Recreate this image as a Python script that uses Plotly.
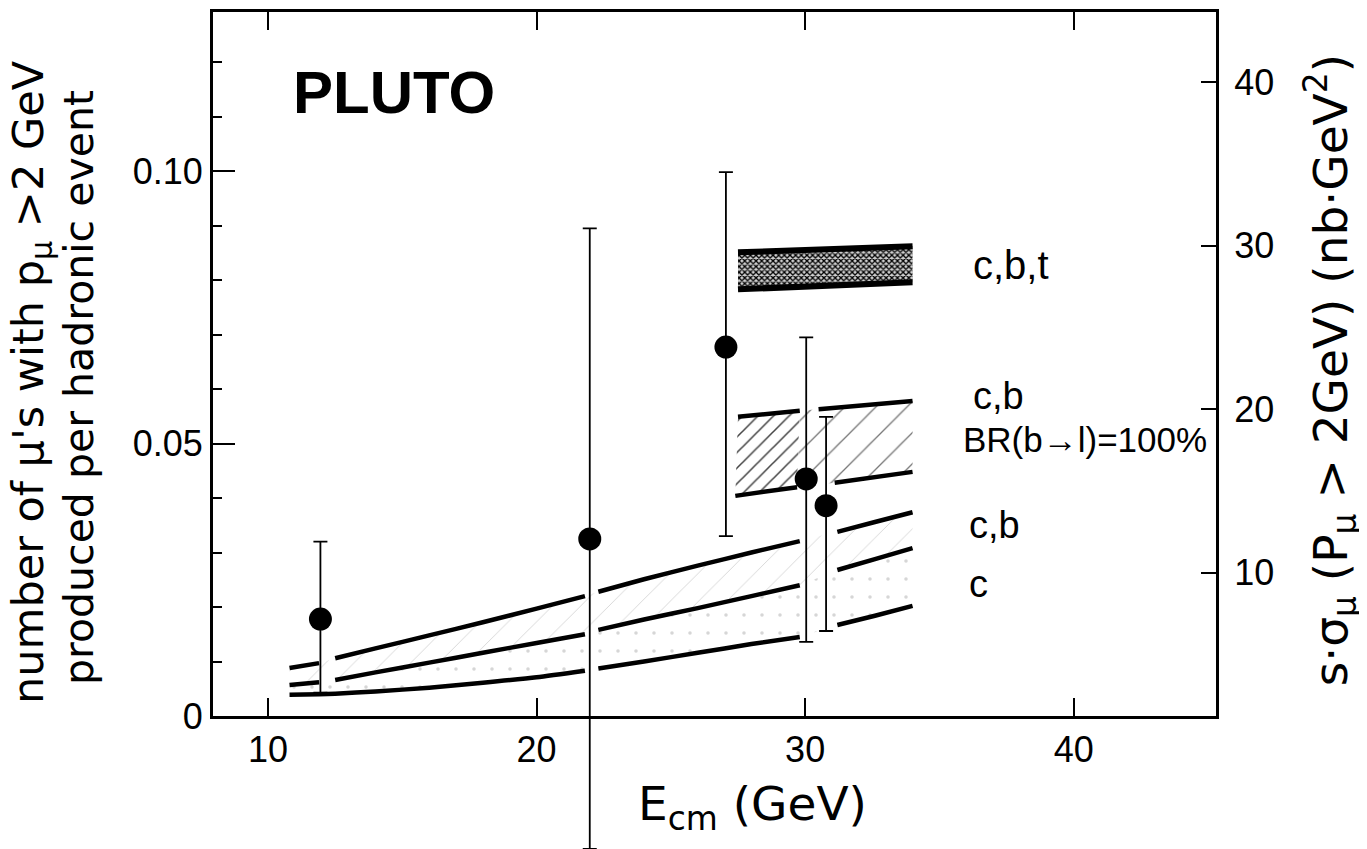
import plotly.graph_objects as go

# ---------------- data ----------------
# measured points: E_cm (GeV), muons per hadronic event, error-bar ends
E_data = [11.95, 21.98, 27.05, 30.04, 30.78]
N_data = [0.0178, 0.0325, 0.0677, 0.0435, 0.0386]
N_hi = [0.0320, 0.0895, 0.0998, 0.0695, 0.0549]
N_lo = [0.0043, -0.0244, 0.0330, 0.0136, 0.0156]

# lower theory band curves (c and c,b)
E_curve = [10.8, 11.9, 12.5, 14, 16, 18, 20, 21.8, 22.3, 24, 26, 28, 29.8, 31.2, 32.6, 34.0]
N_cb_upper = [0.0088, 0.0097, 0.0106, 0.0124, 0.0148, 0.0172, 0.0197, 0.0220, 0.0228,
              0.0251, 0.0276, 0.0300, 0.0321, 0.0338, 0.0356, 0.0374]
N_c_upper = [0.0057, 0.0062, 0.0066, 0.0080, 0.0098, 0.0116, 0.0134, 0.0150, 0.0158,
             0.0177, 0.0198, 0.0220, 0.0240, 0.0268, 0.0288, 0.0308]
N_c_lower = [0.0039, 0.0040, 0.0041, 0.0045, 0.0052, 0.0061, 0.0071, 0.0083, 0.0087,
             0.0100, 0.0116, 0.0132, 0.0145, 0.0167, 0.0184, 0.0202]
breaks_upper = [12.2, 22.05, 30.5]
breaks_lower = [22.05, 30.5]

# c,b band with BR(b->l)=100%
E_br_upper = [27.5, 29.8, 30.5, 34.0]
N_br_upper = [0.0549, 0.0560, 0.0563, 0.0578]
E_br_lower = [27.4, 29.7, 31.1, 34.0]
N_br_lower = [0.0404, 0.0420, 0.0428, 0.0448]
breaks_br_upper = [30.1]
breaks_br_lower = [30.4]

# c,b,t band
E_top = [27.5, 34.0]
N_top_upper = [0.0851, 0.0862]
N_top_lower = [0.0783, 0.0796]

x_ticks = [10, 20, 30, 40]
y_ticks = [0, 0.05, 0.10]
y_ticktext = ["0", "0.05", "0.10"]
y2_ticks = [10, 20, 30, 40]

FONT = "Liberation Sans"
TFONT = "DejaVu Sans"

# axis geometry
X_RANGE = [7.95, 45.3]
Y_RANGE = [0, 0.1292]
Y2_RANGE = [1.22, 44.3]
Y_DOMAIN_BOTTOM = 133 / 837          # space below the frame is part of the paper
Y3_RANGE = [Y_RANGE[0] - (Y_RANGE[1] - Y_RANGE[0]) * Y_DOMAIN_BOTTOM / (1 - Y_DOMAIN_BOTTOM),
            Y_RANGE[1]]


def with_breaks(xs, ys, breaks):
    ox, oy = [], []
    for i, (x, y) in enumerate(zip(xs, ys)):
        if i > 0 and any(xs[i - 1] < b < x for b in breaks):
            ox.append(None)
            oy.append(None)
        ox.append(x)
        oy.append(y)
    return ox, oy


def band(x_up, y_up, x_lo, y_lo, pattern, fillcolor="rgba(0,0,0,0)"):
    return go.Scatter(
        x=list(x_up) + list(x_lo)[::-1],
        y=list(y_up) + list(y_lo)[::-1],
        mode="lines", line=dict(width=0), fill="toself",
        fillcolor=fillcolor, fillpattern=pattern,
        hoverinfo="skip", showlegend=False)


def line(xs, ys, breaks, width=4.5):
    bx, by = with_breaks(xs, ys, breaks)
    return go.Scatter(x=bx, y=by, mode="lines", connectgaps=False,
                      line=dict(color="black", width=width, shape="spline", smoothing=0.6),
                      hoverinfo="skip", showlegend=False)


fig = go.Figure()

# fills
fig.add_trace(band(E_curve, N_cb_upper, E_curve, N_c_upper,
                   dict(shape="/", fgcolor="#cfcfcf", bgcolor="white", size=20, solidity=0.04)))
fig.add_trace(band(E_curve, N_c_upper, E_curve, N_c_lower,
                   dict(shape=".", fgcolor="#d6d6d6", bgcolor="white", size=18, solidity=0.03)))
# BR band: denser hatching on the left piece, sparse on the right piece
fig.add_trace(band(E_br_upper[:2], N_br_upper[:2], E_br_lower[:2], N_br_lower[:2],
                   dict(shape="/", fgcolor="#444444", bgcolor="white", size=11, solidity=0.14)))
fig.add_trace(band(E_br_upper[1:], N_br_upper[1:], E_br_lower[1:], N_br_lower[1:],
                   dict(shape="/", fgcolor="#777777", bgcolor="white", size=22, solidity=0.06)))
fig.add_trace(band(E_top, N_top_upper, E_top, N_top_lower,
                   dict(shape="x", fgcolor="black", bgcolor="#d0d0d0", size=4, solidity=0.55)))

# curves
fig.add_trace(line(E_curve, N_cb_upper, breaks_upper))
fig.add_trace(line(E_curve, N_c_upper, breaks_upper))
fig.add_trace(line(E_curve, N_c_lower, breaks_lower))
fig.add_trace(line(E_br_upper, N_br_upper, breaks_br_upper))
fig.add_trace(line(E_br_lower, N_br_lower, breaks_br_lower))
fig.add_trace(line(E_top, N_top_upper, [], width=6))
fig.add_trace(line(E_top, N_top_lower, [], width=6))

# data points with error bars (on a hidden full-height axis so the bars can pass below the frame)
fig.add_trace(go.Scatter(
    x=E_data, y=N_data, mode="markers", cliponaxis=False, yaxis="y3",
    marker=dict(color="black", size=23, line=dict(width=0)),
    error_y=dict(type="data", symmetric=False,
                 array=[h - v for h, v in zip(N_hi, N_data)],
                 arrayminus=[v - l for l, v in zip(N_lo, N_data)],
                 color="black", thickness=1.8, width=7),
    showlegend=False, hoverinfo="skip"))

# secondary axis carrier (invisible)
fig.add_trace(go.Scatter(x=[None], y=[None], yaxis="y2", showlegend=False, hoverinfo="skip"))

tick_font = dict(family=FONT, size=36, color="black")

fig.update_layout(
    template="none",
    width=1359, height=841,
    margin=dict(l=205, r=151, t=4, b=0, pad=0),
    paper_bgcolor="white", plot_bgcolor="rgba(0,0,0,0)",
    showlegend=False,
    xaxis=dict(range=X_RANGE, tickvals=x_ticks, ticks="inside", ticklen=18,
               tickwidth=2, tickcolor="black", showline=True, linecolor="black",
               linewidth=3, mirror="ticks", showgrid=False, zeroline=False,
               tickfont=tick_font, anchor="y", automargin=False),
    yaxis=dict(range=Y_RANGE, domain=[Y_DOMAIN_BOTTOM, 1], tickvals=y_ticks,
               ticktext=y_ticktext, ticks="inside", ticklen=22, tickwidth=2,
               tickcolor="black", showline=True, linecolor="black", linewidth=3,
               mirror=False, showgrid=False, zeroline=False, tickfont=tick_font,
               automargin=False,
               minor=dict(dtick=0.01, tick0=0, ticks="inside", ticklen=9,
                          tickwidth=2, tickcolor="black", showgrid=False)),
    yaxis2=dict(range=Y2_RANGE, overlaying="y", side="right",
                tickvals=y2_ticks, ticks="inside", ticklen=15, tickwidth=2,
                tickcolor="black", showline=True, linecolor="black", linewidth=3,
                showgrid=False, zeroline=False, tickfont=tick_font, automargin=False,
                ticklabelstandoff=8),
    yaxis3=dict(range=Y3_RANGE, domain=[0, 1], anchor="x", visible=False,
                showgrid=False, zeroline=False, automargin=False),
)

annotations = [
    dict(text="<b>PLUTO</b>", x=14.7, y=0.1145, xref="x", yref="y",
         font=dict(family=FONT, size=60, color="black"), showarrow=False),
    dict(text="c,b,t", x=36.16, y=0.0828, xref="x", yref="y", xanchor="left",
         font=dict(family=FONT, size=40, color="black"), showarrow=False),
    dict(text="c,b", x=36.16, y=0.0588, xref="x", yref="y", xanchor="left",
         font=dict(family=FONT, size=38, color="black"), showarrow=False),
    dict(text="BR(b→l)=100%", x=35.8, y=0.0508, xref="x", yref="y", xanchor="left",
         font=dict(family=FONT, size=35, color="black"), showarrow=False),
    dict(text="c,b", x=36.04, y=0.0350, xref="x", yref="y", xanchor="left",
         font=dict(family=FONT, size=38, color="black"), showarrow=False),
    dict(text="c", x=36.04, y=0.0243, xref="x", yref="y", xanchor="left",
         font=dict(family=FONT, size=38, color="black"), showarrow=False),
    dict(text="E<sub>cm</sub> (GeV)", x=0.538, y=0.050, xref="paper", yref="paper",
         xanchor="center", yanchor="middle", font=dict(family=TFONT, size=47, color="black"),
         showarrow=False),
    dict(text="number of μ's with p<sub>μ</sub> >2 GeV", x=-0.1814, y=0.558,
         xref="paper", yref="paper", xanchor="center", yanchor="middle",
         textangle=-90, font=dict(family=TFONT, size=43, color="black"), showarrow=False),
    dict(text="produced per hadronic event", x=-0.1336, y=0.552,
         xref="paper", yref="paper", xanchor="center", yanchor="middle",
         textangle=-90, font=dict(family=TFONT, size=41, color="black"), showarrow=False),
    dict(text="s·σ<sub>μ</sub> (P<sub>μ</sub> > 2GeV) (nb·GeV<sup>2</sup>)", x=1.1137, y=0.572,
         xref="paper", yref="paper", xanchor="center", yanchor="middle",
         textangle=-90, font=dict(family=TFONT, size=47, color="black"), showarrow=False),
]
fig.update_layout(annotations=annotations)

fig.write_html("out.html")
